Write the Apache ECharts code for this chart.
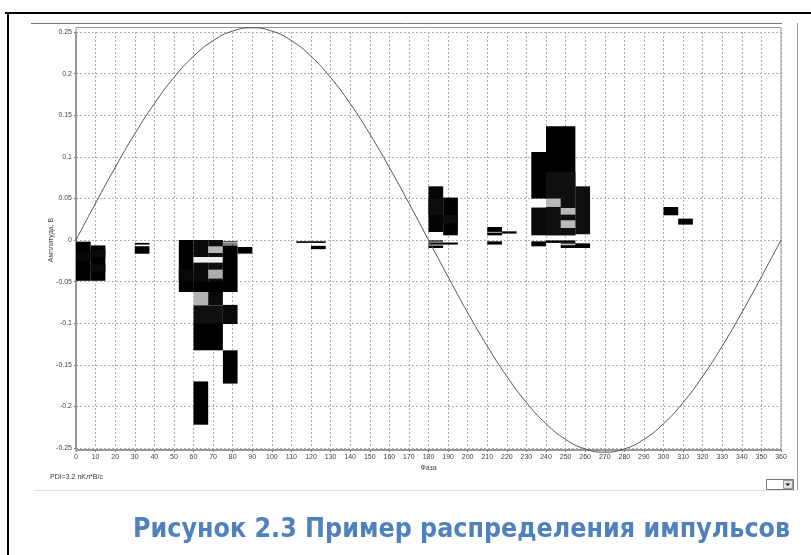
<!DOCTYPE html>
<html><head><meta charset="utf-8">
<script src="https://cdn.jsdelivr.net/npm/echarts@6/dist/echarts.min.js"></script>
<style>html,body{margin:0;padding:0;background:#fff;}#c{width:811px;height:555px;}</style>
</head><body><div id="c"></div>
<script>
// Reference sine (phase in degrees, amplitude in V)
const sinePhase = [0,10,20,30,40,50,60,70,80,90,100,110,120,130,140,150,160,170,180,190,200,210,220,230,240,250,260,270,280,290,300,310,320,330,340,350,360];
const sineAmp = [0,0.0443,0.0872,0.1275,0.1639,0.1953,0.2208,0.2396,0.2511,0.255,0.2511,0.2396,0.2208,0.1953,0.1639,0.1275,0.0872,0.0443,0,-0.0443,-0.0872,-0.1275,-0.1639,-0.1953,-0.2208,-0.2396,-0.2511,-0.255,-0.2511,-0.2396,-0.2208,-0.1953,-0.1639,-0.1275,-0.0872,-0.0443,0];

// Pulse cells: [phaseFrom, phaseTo, ampLow, ampHigh, intensity]
const pulseCells = [
  [0,7.5,-0.049,-0.002,1],
  [7.5,15,-0.049,-0.0065,1],
  [0,7.5,-0.025,-0.015,0.97],
  [7.5,15,-0.021,-0.012,0.965],
  [7.5,15,-0.038,-0.029,0.965],
  [30,37.5,-0.0165,-0.0075,1],
  [30,37.5,-0.0055,-0.0035,1],
  [52.5,60,-0.0625,0,1],
  [52.5,60,-0.05,-0.035,0.97],
  [60,67.5,-0.0625,0,0.96],
  [67.5,75,-0.0625,0,0.95],
  [60,75,-0.0625,-0.05,1],
  [60,75,-0.0272,-0.0204,0.07],
  [67.5,75,-0.0156,-0.0076,0.28],
  [67.5,75,-0.0464,-0.0356,0.32],
  [75,82.5,-0.0625,-0.0065,1],
  [75,82.5,-0.0052,-0.0042,1],
  [75,82.5,-0.0028,-0.0016,1],
  [82.5,90,-0.0164,-0.0084,1],
  [60,67.5,-0.0785,-0.0625,0.3],
  [67.5,75,-0.0785,-0.0625,0.96],
  [60,75,-0.0998,-0.0785,0.94],
  [60,75,-0.1326,-0.0998,1],
  [75,82.5,-0.101,-0.078,0.97],
  [75,82.5,-0.1726,-0.1326,1],
  [60,67.5,-0.222,-0.17,1],
  [112.5,127.5,-0.0035,-0.0015,1],
  [120,127.5,-0.011,-0.007,1],
  [180,187.5,0.0096,0.0645,0.98],
  [180,187.5,0.03,0.05,0.95],
  [187.5,195,0.0056,0.051,1],
  [187.5,195,0.02,0.03,0.95],
  [180,187.5,-0.0096,-0.0066,1],
  [180,195,-0.0055,-0.003,1],
  [180,187.5,-0.002,-0.0005,1],
  [210,217.5,0.0056,0.0156,1],
  [210,217.5,0.0088,0.0098,0.3],
  [217.5,225,0.0077,0.0104,1],
  [210,217.5,-0.0055,-0.0016,1],
  [232.5,240,0.0498,0.1058,1],
  [232.5,240,0.0056,0.039,0.96],
  [240,255,0.0056,0.1367,1],
  [240,255,0.0056,0.0817,0.94],
  [255,262.5,0.0069,0.0645,0.94],
  [240,247.5,0.0397,0.0498,0.28],
  [247.5,255,0.0305,0.0385,0.28],
  [247.5,255,0.0144,0.0237,0.28],
  [232.5,240,-0.0076,-0.0016,1],
  [240,255,-0.0035,-0.0005,1],
  [247.5,262.5,-0.0096,-0.004,1],
  [247.5,255,-0.0062,-0.005,0.08],
  [300,307.5,0.0297,0.0397,1],
  [307.5,315,0.0185,0.0257,1]
];

const phaseMin = 0, phaseMax = 360, phaseStep = 10;
const ampMin = -0.25, ampMax = 0.25, ampStep = 0.05;

const chart = echarts.init(document.getElementById('c'), null, {renderer: 'canvas'});
const lblFont = {fontFamily: 'Liberation Sans', fontSize: 7, color: '#444'};
const gridLine = {show: true, lineStyle: {color: '#b0b0b0', type: [2, 2], width: 1}};

chart.setOption({
  animation: false,
  backgroundColor: '#fff',
  grid: {left: 76, right: 30, top: 32, bottom: 107, containLabel: false},
  xAxis: {
    type: 'value', min: phaseMin, max: phaseMax, interval: phaseStep, offset: 2,
    name: 'Фаза', nameLocation: 'middle', nameGap: 15, nameMoveOverlap: false,
    nameTextStyle: lblFont,
    axisLine: {show: true, onZero: false, lineStyle: {color: '#777', width: 1.5}},
    axisTick: {show: true, length: 2, lineStyle: {color: '#777'}},
    axisLabel: Object.assign({margin: 4}, lblFont),
    splitLine: gridLine
  },
  yAxis: {
    type: 'value', min: ampMin, max: ampMax, interval: ampStep,
    name: 'Амплитуда, В', nameLocation: 'middle', nameGap: 21, nameRotate: 90, nameMoveOverlap: false,
    nameTextStyle: lblFont,
    axisLine: {show: true, onZero: false, lineStyle: {color: '#777', width: 1.5}},
    axisTick: {show: true, length: 2, lineStyle: {color: '#777'}},
    axisLabel: Object.assign({margin: 4}, lblFont),
    splitLine: gridLine
  },
  series: [
    {
      type: 'custom', z: 2,
      encode: {x: [0, 1], y: [2, 3]},
      data: pulseCells,
      renderItem: function (params, api) {
        const p0 = api.coord([api.value(0), api.value(3)]);
        const p1 = api.coord([api.value(1), api.value(2)]);
        const g = Math.round(255 * (1 - api.value(4)));
        return {type: 'rect', shape: {x: p0[0], y: p0[1], width: p1[0] - p0[0], height: Math.max(1, p1[1] - p0[1])},
          style: {fill: 'rgb(' + g + ',' + g + ',' + g + ')'}};
      }
    },
    {
      type: 'line', z: 3, smooth: true, showSymbol: false, clip: false,
      data: sinePhase.map((p, i) => [p, sineAmp[i]]),
      lineStyle: {color: '#555', width: 1}
    }
  ],
  graphic: [
    {type: 'line', shape: {x1: 5, y1: 13, x2: 811, y2: 13}, style: {stroke: '#000', lineWidth: 2}},
    {type: 'line', shape: {x1: 8, y1: 13, x2: 8, y2: 555}, style: {stroke: '#000', lineWidth: 2}},
    {type: 'line', shape: {x1: 31, y1: 23.5, x2: 782, y2: 23.5}, style: {stroke: '#777', lineWidth: 1}},
    {type: 'line', shape: {x1: 797.5, y1: 23, x2: 797.5, y2: 490}, style: {stroke: '#999', lineWidth: 1}},
    {type: 'line', shape: {x1: 34, y1: 490.5, x2: 797, y2: 490.5}, style: {stroke: '#e0e0e0', lineWidth: 1}},
    {type: 'rect', shape: {x: 76, y: 27.5, width: 705, height: 422.5}, style: {fill: 'none', stroke: '#999', lineWidth: 1}, z: 1},
    {type: 'text', x: 50, y: 474, style: {text: 'PDI=3.2 nKл*B/c', fontFamily: 'Liberation Sans', fontSize: 7, fill: '#333'}},
    {type: 'rect', shape: {x: 766.5, y: 479.5, width: 27, height: 10}, style: {fill: '#fff', stroke: '#777', lineWidth: 1}},
    {type: 'rect', shape: {x: 783.5, y: 480.5, width: 9, height: 8}, style: {fill: '#e4e4e4', stroke: '#999', lineWidth: 1}},
    {type: 'polygon', shape: {points: [[785.5, 483.5], [790, 483.5], [787.75, 486]]}, style: {fill: '#000'}},
    {type: 'text', x: 133, y: 516, scaleX: 0.885, style: {text: 'Рисунок 2.3 Пример распределения импульсов', fontFamily: 'DejaVu Sans', fontWeight: 'bold', fontSize: 27, fill: '#4F81BD'}}
  ]
});
</script>
</body></html>
